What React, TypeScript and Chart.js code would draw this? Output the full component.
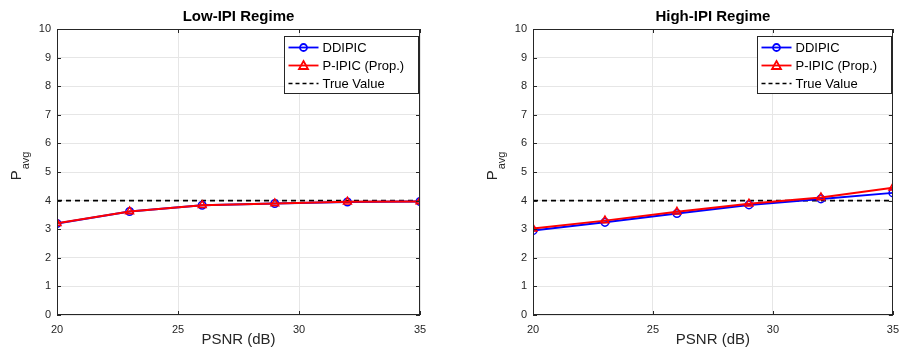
import React, { useEffect, useRef } from "react";
import { Chart, registerables } from "chart.js";

Chart.register(...registerables);

const xValues = [20, 23, 26, 29, 32, 35];
const lowDDIPIC = [3.2, 3.62, 3.84, 3.9, 3.95, 3.97];
const lowPIPIC = [3.21, 3.62, 3.84, 3.9, 3.96, 3.97];
const highDDIPIC = [2.95, 3.24, 3.55, 3.85, 4.06, 4.27];
const highPIPIC = [3.02, 3.3, 3.61, 3.89, 4.11, 4.45];
const trueValue = [4, 4];
const trueX = [20, 35];
const yTicks = [0, 1, 2, 3, 4, 5, 6, 7, 8, 9, 10];
const xTicks = [20, 25, 30, 35];
const titles = ["Low-IPI Regime", "High-IPI Regime"];
const legendLabels = ["DDIPIC", "P-IPIC (Prop.)", "True Value"];
const xTitle = "PSNR (dB)";

const FONT = '"Liberation Sans", Arial, Helvetica, sans-serif';
const AXIS = "#262626";

function toPts(xs: number[], ys: number[]) {
  return xs.map((x, i) => ({ x, y: ys[i] }));
}

const decorPlugin = {
  id: "decor",
  afterDraw(chart: any) {
    const { ctx, chartArea: a, scales } = chart;
    const title = chart.options.plugins.decor.title;
    ctx.save();
    // box
    ctx.strokeStyle = AXIS;
    ctx.lineWidth = 1;
    ctx.strokeRect(Math.round(a.left) + 0.5, Math.round(a.top) + 0.5, Math.round(a.right - a.left) - 1, Math.round(a.bottom - a.top) - 1);
    // inner ticks
    ctx.beginPath();
    yTicks.forEach((v) => {
      const y = Math.round(scales.y.getPixelForValue(v)) + 0.5;
      ctx.moveTo(a.left, y);
      ctx.lineTo(a.left + 4, y);
      ctx.moveTo(a.right, y);
      ctx.lineTo(a.right - 4, y);
    });
    xTicks.forEach((v) => {
      const x = Math.round(scales.x.getPixelForValue(v)) + 0.5;
      ctx.moveTo(x, a.bottom);
      ctx.lineTo(x, a.bottom - 4);
      ctx.moveTo(x, a.top);
      ctx.lineTo(x, a.top + 4);
    });
    ctx.stroke();

    // title
    ctx.fillStyle = "#000";
    ctx.font = `bold 15px ${FONT}`;
    ctx.textAlign = "center";
    ctx.textBaseline = "middle";
    ctx.fillText(title, (a.left + a.right) / 2, 17);

    // x title
    ctx.fillStyle = AXIS;
    ctx.font = `15px ${FONT}`;
    ctx.fillText(xTitle, (a.left + a.right) / 2, 340);

    // y label P_avg
    ctx.save();
    ctx.translate(a.left - 36, (a.top + a.bottom) / 2 - 6);
    ctx.rotate(-Math.PI / 2);
    ctx.textAlign = "left";
    ctx.textBaseline = "alphabetic";
    ctx.font = `15px ${FONT}`;
    const wP = ctx.measureText("P").width;
    ctx.font = `11px ${FONT}`;
    const wA = ctx.measureText("avg").width;
    const start = -(wP + wA + 1) / 2;
    ctx.font = `15px ${FONT}`;
    ctx.fillText("P", start, 0);
    ctx.font = `11px ${FONT}`;
    ctx.fillText("avg", start + wP + 1, 8);
    ctx.restore();

    // legend
    const bw = 134;
    const bh = 57;
    const bx = Math.round(a.right - 2 - bw) + 0.5;
    const by = Math.round(a.top + 7) + 0.5;
    ctx.fillStyle = "#fff";
    ctx.fillRect(bx, by, bw, bh);
    ctx.strokeStyle = AXIS;
    ctx.lineWidth = 1;
    ctx.strokeRect(bx, by, bw, bh);
    const rows = [by + 11, by + 29, by + 47];
    const colors = ["#0000ff", "#ff0000", "#000000"];
    rows.forEach((ry, i) => {
      ctx.strokeStyle = colors[i];
      ctx.lineWidth = i === 2 ? 1.5 : 1.8;
      ctx.setLineDash(i === 2 ? [4, 3] : []);
      ctx.beginPath();
      ctx.moveTo(bx + 4, ry);
      ctx.lineTo(bx + 34, ry);
      ctx.stroke();
      ctx.setLineDash([]);
      const cx = bx + 19;
      if (i === 0) {
        ctx.beginPath();
        ctx.arc(cx, ry, 3.5, 0, Math.PI * 2);
        ctx.stroke();
      } else if (i === 1) {
        ctx.beginPath();
        ctx.moveTo(cx, ry - 4.5);
        ctx.lineTo(cx + 4.5, ry + 3.5);
        ctx.lineTo(cx - 4.5, ry + 3.5);
        ctx.closePath();
        ctx.stroke();
      }
      ctx.fillStyle = "#000";
      ctx.font = `13px ${FONT}`;
      ctx.textAlign = "left";
      ctx.textBaseline = "middle";
      ctx.fillText(legendLabels[i], bx + 38, ry + 1);
    });
    ctx.restore();
  },
};

function makeConfig(title: string, dd: number[], pi: number[], yWidth: number, padRight: number): any {
  return {
    type: "line",
    data: {
      datasets: [
        {
          label: legendLabels[1],
          data: toPts(xValues, pi),
          borderColor: "#ff0000",
          borderWidth: 2,
          pointStyle: "triangle",
          pointRadius: 4.5,
          pointBorderWidth: 1.5,
          pointBackgroundColor: "rgba(0,0,0,0)",
          pointBorderColor: "#ff0000",
          order: 0,
        },
        {
          label: legendLabels[0],
          data: toPts(xValues, dd),
          borderColor: "#0000ff",
          borderWidth: 2,
          pointStyle: "circle",
          pointRadius: 3.8,
          pointBorderWidth: 1.5,
          pointBackgroundColor: "rgba(0,0,0,0)",
          pointBorderColor: "#0000ff",
          order: 1,
        },
        {
          label: legendLabels[2],
          data: toPts(trueX, trueValue),
          borderColor: "#000000",
          borderWidth: 1.6,
          borderDash: [5, 4],
          pointRadius: 0,
          order: 2,
        },
      ],
    },
    options: {
      responsive: false,
      animation: false,
      devicePixelRatio: 1,
      layout: { padding: { top: 29, right: padRight, left: 0, bottom: 0 } },
      plugins: {
        legend: { display: false },
        tooltip: { enabled: false },
        title: { display: false },
        decor: { title },
      },
      scales: {
        x: {
          type: "linear",
          min: 20,
          max: 35,
          afterBuildTicks: (s: any) => {
            s.ticks = xTicks.map((v) => ({ value: v }));
          },
          afterFit: (s: any) => {
            s.height = 43;
          },
          grid: { color: "#e6e6e6", drawTicks: false, lineWidth: 1 },
          border: { display: false },
          ticks: { color: AXIS, font: { family: FONT, size: 11 }, padding: 8, maxRotation: 0 },
        },
        y: {
          type: "linear",
          min: 0,
          max: 10,
          afterBuildTicks: (s: any) => {
            s.ticks = yTicks.map((v) => ({ value: v }));
          },
          afterFit: (s: any) => {
            s.width = yWidth;
          },
          grid: { color: "#e6e6e6", drawTicks: false, lineWidth: 1 },
          border: { display: false },
          ticks: { color: AXIS, font: { family: FONT, size: 11 }, padding: 6 },
        },
      },
    },
    plugins: [decorPlugin],
  };
}

function Panel({ idx, left, width }: { idx: number; left: number; width: number }) {
  const ref = useRef<HTMLCanvasElement>(null);
  useEffect(() => {
    if (!ref.current) return;
    const cfg =
      idx === 0
        ? makeConfig(titles[0], lowDDIPIC, lowPIPIC, 57, 33)
        : makeConfig(titles[1], highDDIPIC, highPIPIC, 80, 10);
    const chart = new Chart(ref.current, cfg);
    return () => chart.destroy();
  }, [idx]);
  return (
    <canvas
      ref={ref}
      width={width}
      height={358}
      style={{ position: "absolute", left, top: 0, width, height: 358 }}
    />
  );
}

export default function App() {
  return (
    <div style={{ position: "fixed", left: 0, top: 0, width: 907, height: 358, background: "#fff" }}>
      <Panel idx={0} left={0} width={453} />
      <Panel idx={1} left={453} width={454} />
    </div>
  );
}
